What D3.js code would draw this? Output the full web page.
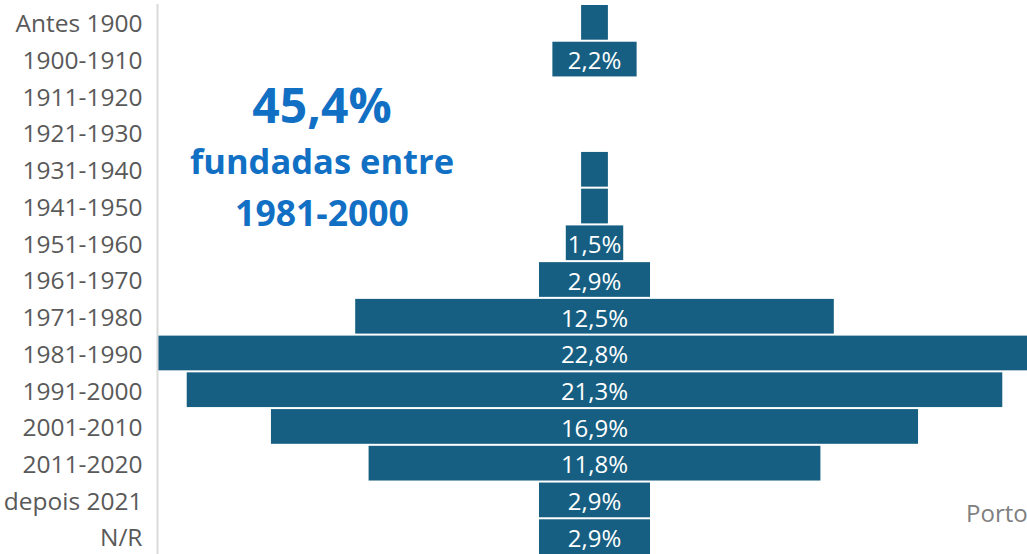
<!DOCTYPE html>
<html>
<head>
<meta charset="utf-8">
<script src="https://cdn.jsdelivr.net/npm/d3@7"></script>
<style>
  html, body { margin: 0; padding: 0; background: #fff; overflow: hidden; }
  svg { display: block; font-family: "Open Sans", "Noto Sans", sans-serif; }
</style>
</head>
<body>
<div id="chart"></div>
<script>
// categories (decade of foundation) and share of firms, %
const decades = ["Antes 1900", "1900-1910", "1911-1920", "1921-1930", "1931-1940", "1941-1950",
  "1951-1960", "1961-1970", "1971-1980", "1981-1990", "1991-2000", "2001-2010",
  "2011-2020", "depois 2021", "N/R"];
const share = [0.7, 2.2, 0, 0, 0.7, 0.7, 1.5, 2.9, 12.5, 22.8, 21.3, 16.9, 11.8, 2.9, 2.9];
const valueLabels = ["", "2,2%", "", "", "", "", "1,5%", "2,9%", "12,5%", "22,8%", "21,3%",
  "16,9%", "11,8%", "2,9%", "2,9%"];
const highlight = ["45,4%", "fundadas entre", "1981-2000"];
const legendLabel = "Porto";

const width = 1027;
const height = 554;
const barColor = "#175f82";

const data = decades.map((d, i) => ({ decade: d, value: share[i], label: valueLabels[i] }));

const svg = d3.select("#chart")
  .append("svg")
  .attr("width", width)
  .attr("height", height);

// bars are centred: half to the left, half to the right of the middle
const xScale = d3.scaleLinear()
  .domain([-11.4, 11.4])
  .range([158, 1031]);

const yScale = d3.scaleBand()
  .domain(decades)
  .range([4, 555])
  .paddingInner(0.055)
  .paddingOuter(0.027);

svg.append("g")
  .selectAll("rect")
  .data(data.filter(d => d.value > 0))
  .join("rect")
  .attr("x", d => xScale(-d.value / 2))
  .attr("y", d => yScale(d.decade))
  .attr("width", d => xScale(d.value / 2) - xScale(-d.value / 2))
  .attr("height", yScale.bandwidth())
  .attr("fill", barColor);

svg.append("g")
  .selectAll("text")
  .data(data.filter(d => d.label))
  .join("text")
  .attr("x", xScale(0))
  .attr("y", d => yScale(d.decade) + yScale.bandwidth() / 2)
  .attr("dy", "0.43em")
  .attr("text-anchor", "middle")
  .attr("fill", "#ffffff")
  .style("font-size", "24px")
  .text(d => d.label);

// category axis on the left
const yAxis = d3.axisLeft(yScale).tickSize(0).tickPadding(15);
const axisG = svg.append("g")
  .attr("transform", "translate(157.5,0)")
  .call(yAxis);
axisG.select(".domain")
  .attr("stroke", "#d9d9d9")
  .attr("stroke-width", 2)
  .attr("d", `M0,${yScale.range()[0]}V${height}`);
axisG.selectAll("text")
  .attr("fill", "#595959")
  .attr("dy", "0.4em")
  .style("font-size", "24.5px")
  .style("font-family", "'Open Sans', 'Noto Sans', sans-serif");

// highlight text
const note = svg.append("g")
  .attr("fill", "#1170c4")
  .attr("font-weight", "bold")
  .attr("text-anchor", "middle");
note.append("text")
  .attr("x", 322).attr("y", 123)
  .style("font-size", "48px")
  .text(highlight[0]);
note.append("text")
  .attr("x", 322).attr("y", 174)
  .style("font-size", "34.5px")
  .text(highlight[1]);
note.append("text")
  .attr("x", 322).attr("y", 226)
  .style("font-size", "35.5px")
  .text(highlight[2]);

// legend, cut by the right edge
svg.append("text")
  .attr("x", 966)
  .attr("y", 522)
  .attr("fill", "#808080")
  .style("font-size", "24px")
  .text(legendLabel);
</script>
</body>
</html>
